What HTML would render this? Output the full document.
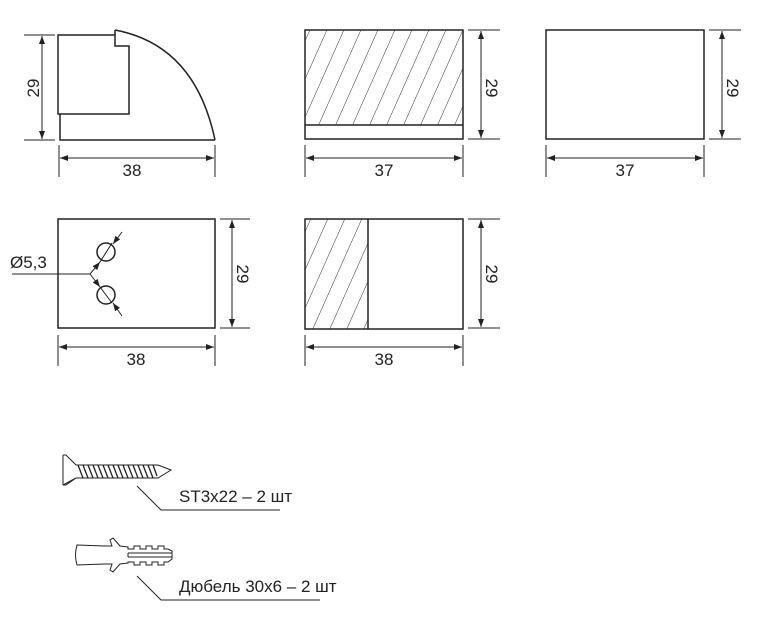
<!DOCTYPE html>
<html><head><meta charset="utf-8"><style>body{margin:0;background:#fff}svg{display:block}text{font-family:"Liberation Sans",sans-serif;font-size:17px;fill:#222}</style></head><body>
<svg width="764" height="620" viewBox="0 0 764 620" xmlns="http://www.w3.org/2000/svg">
<defs>
<marker id="a" markerWidth="8" markerHeight="6" refX="8" refY="3" orient="auto-start-reverse" markerUnits="userSpaceOnUse"><path d="M0,0 L8,3 L0,6z" fill="#222"/></marker>
<clipPath id="c1"><rect x="305" y="30" width="158" height="95"/></clipPath>
<clipPath id="c2"><rect x="305" y="219" width="63" height="110"/></clipPath>
<pattern id="h" patternUnits="userSpaceOnUse" width="17" height="37" patternTransform="skewX(-24)"><line x1="0" y1="0" x2="0" y2="37" stroke="#222" stroke-width="1"/></pattern>
</defs>
<g fill="none" stroke="#222" stroke-width="1.5">
<path d="M58,35 H115 V46 H129 V114 H58 Z"/>
<path d="M60,114 V140 H215"/>
<path d="M115,30 Q195,45 215,140"/>
<line x1="115" y1="30" x2="115" y2="35"/>
<rect x="305" y="30" width="158" height="109"/>
<line x1="305" y1="125" x2="463" y2="125"/>
<rect x="546" y="30" width="158" height="109"/>
<rect x="58" y="219" width="157" height="109"/>
<circle cx="106" cy="252" r="9"/>
<circle cx="106" cy="295" r="9"/>
<rect x="305" y="219" width="158" height="110"/>
<line x1="368" y1="219" x2="368" y2="329"/>
</g>
<rect x="305" y="30" width="158" height="95" fill="url(#h)" clip-path="url(#c1)"/>
<rect x="305" y="219" width="63" height="110" fill="url(#h)" clip-path="url(#c2)"/>
<g stroke="#222" stroke-width="1" fill="none">
<line x1="24" y1="35" x2="55" y2="35"/><line x1="24" y1="140" x2="55" y2="140"/>
<line x1="42" y1="36" x2="42" y2="139" marker-start="url(#a)" marker-end="url(#a)"/>
<line x1="59" y1="145" x2="59" y2="177"/><line x1="215" y1="145" x2="215" y2="177"/>
<line x1="60" y1="158" x2="214" y2="158" marker-start="url(#a)" marker-end="url(#a)"/>
<line x1="468" y1="30" x2="500" y2="30"/><line x1="468" y1="139" x2="500" y2="139"/>
<line x1="481" y1="31" x2="481" y2="138" marker-start="url(#a)" marker-end="url(#a)"/>
<line x1="305" y1="145" x2="305" y2="177"/><line x1="463" y1="145" x2="463" y2="177"/>
<line x1="306" y1="158" x2="462" y2="158" marker-start="url(#a)" marker-end="url(#a)"/>
<line x1="709" y1="30" x2="741" y2="30"/><line x1="709" y1="139" x2="741" y2="139"/>
<line x1="722" y1="31" x2="722" y2="138" marker-start="url(#a)" marker-end="url(#a)"/>
<line x1="546" y1="145" x2="546" y2="177"/><line x1="704" y1="145" x2="704" y2="177"/>
<line x1="547" y1="158" x2="703" y2="158" marker-start="url(#a)" marker-end="url(#a)"/>
<line x1="220" y1="219" x2="250" y2="219"/><line x1="220" y1="328" x2="250" y2="328"/>
<line x1="232" y1="220" x2="232" y2="327" marker-start="url(#a)" marker-end="url(#a)"/>
<line x1="58" y1="335" x2="58" y2="366"/><line x1="215" y1="335" x2="215" y2="366"/>
<line x1="59" y1="347" x2="214" y2="347" marker-start="url(#a)" marker-end="url(#a)"/>
<path d="M12,274 H90 L100,262" marker-end="url(#a)"/>
<path d="M90,274 L100,287" marker-end="url(#a)"/>
<line x1="100" y1="262" x2="112" y2="243"/><line x1="100" y1="287" x2="112" y2="303"/>
<line x1="122" y1="232" x2="113" y2="244" marker-end="url(#a)"/>
<line x1="122" y1="316" x2="113" y2="303" marker-end="url(#a)"/>
<line x1="468" y1="219" x2="500" y2="219"/><line x1="468" y1="328" x2="500" y2="328"/>
<line x1="481" y1="220" x2="481" y2="327" marker-start="url(#a)" marker-end="url(#a)"/>
<line x1="305" y1="335" x2="305" y2="366"/><line x1="463" y1="335" x2="463" y2="366"/>
<line x1="306" y1="347" x2="462" y2="347" marker-start="url(#a)" marker-end="url(#a)"/>
<!-- screw -->
<path d="M63,455 L66,455 L76,465 M76,478 L66,485 L63,485 Z M63,455 V485"/>
<path d="M76,465 H158 L171,470 L158,478 H76"/>
<path stroke-width="1.3" d="M78,465 l5,13 M83,465 l5,13 M88,465 l5,13 M93,465 l5,13 M98,465 l5,13 M103,465 l5,13 M108,465 l5,13 M113,465 l5,13 M118,465 l5,13 M123,465 l5,13 M128,465 l5,13 M133,465 l5,13 M138,465 l5,13 M143,465 l5,13 M148,465 l5,13 M153,465 l4,11"/>
<path d="M137,486 L161,510 H280"/>
<!-- dowel -->
<path d="M77,545 L104,546 L112,546 L110,540 L113,538 L120,546 L128,547 V549 H134 V546 H140 V549 H146 V546 H152 V549 H158 V546 H164 V549 H168 L172,551 L172,559 L168,562 H164 V565 H158 V562 H152 V565 H146 V562 H140 V565 H134 V562 H128 V563 L120,564 L113,572 L110,570 L112,564 L104,564 L77,565 Q74,555 77,545 Z"/>
<path d="M128,553 H172 M128,557 H172 M128,553 V557"/>
<path d="M137,576 L161,600 H320"/>
</g>
<text x="132" y="176" text-anchor="middle">38</text>
<text x="384" y="176" text-anchor="middle">37</text>
<text x="625" y="176" text-anchor="middle">37</text>
<text x="136" y="365" text-anchor="middle">38</text>
<text x="384" y="365" text-anchor="middle">38</text>
<text x="10" y="268" font-size="15">Ø5,3</text>
<text transform="translate(39,88) rotate(-90)" text-anchor="middle">29</text>
<text transform="translate(486,88) rotate(90)" text-anchor="middle">29</text>
<text transform="translate(727,88) rotate(90)" text-anchor="middle">29</text>
<text transform="translate(237,274) rotate(90)" text-anchor="middle">29</text>
<text transform="translate(486,274) rotate(90)" text-anchor="middle">29</text>
<text x="179" y="502" font-size="15">ST3x22 – 2 шт</text>
<text x="179" y="592" font-size="15">Дюбель 30x6 – 2 шт</text>
</svg>
</body></html>
